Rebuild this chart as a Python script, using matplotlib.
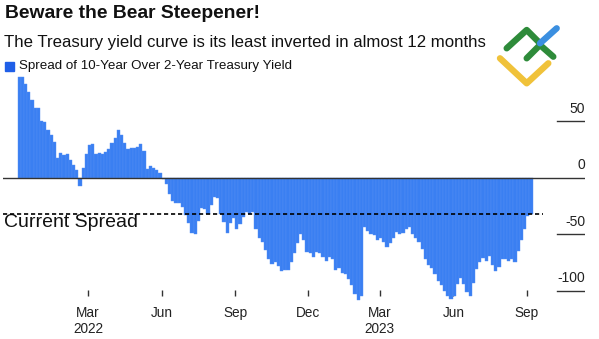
import matplotlib
matplotlib.use("Agg")
import matplotlib.pyplot as plt
import matplotlib.dates as mdates
from matplotlib.patches import Rectangle
from matplotlib.lines import Line2D
import numpy as np
import pandas as pd

plt.rcParams['font.family'] = ['Liberation Sans', 'DejaVu Sans']

# Spread 10Y - 2Y (bp), one bar every 4 days starting 2021-12-03
spread = [89, 89, 83, 76, 69, 62, 62, 50, 49, 42,
          38, 32, 17, 22, 20, 21, 16, 11, 7, -7,
          9, 21, 29, 30, 21, 22, 21, 23, 25, 31,
          35, 42, 38, 31, 25, 26, 26, 27, 30, 24,
          8, 10, 9, 7, 4, -1, -6, -14, -21, -22,
          -22, -26, -33, -40, -49, -50, -38, -27, -28, -32,
          -24, -17, -18, -32, -39, -49, -40, -36, -45, -41,
          -35, -30, -32, -30, -45, -53, -57, -64, -72, -76,
          -75, -78, -83, -82, -82, -75, -67, -58, -50, -55,
          -66, -67, -70, -66, -67, -70, -74, -70, -72, -82,
          -80, -84, -85, -90, -95, -103, -108, -105, -44, -47,
          -50, -51, -55, -53, -57, -61, -58, -53, -48, -50,
          -49, -45, -44, -50, -53, -57, -63, -72, -77, -80,
          -85, -91, -95, -100, -105, -107, -105, -94, -89, -94,
          -101, -105, -93, -81, -75, -71, -74, -69, -77, -83,
          -79, -72, -72, -74, -72, -75, -65, -55, -45, -34,
          -32]
dates = pd.date_range('2021-12-03', periods=len(spread), freq='4D')
current = spread[-1]

y_ticks = [50, 0, -50, -100]
x_ticks = ['2022-03-01', '2022-06-01', '2022-09-01', '2022-12-01',
           '2023-03-01', '2023-06-01', '2023-09-01']
x_labels = ['Mar\n2022', 'Jun', 'Sep', 'Dec', 'Mar\n2023', 'Jun', 'Sep']

W, H = 599, 339
fig = plt.figure(figsize=(W / 100, H / 100), dpi=100)
ax = fig.add_axes([3 / W, (H - 296) / H, 582 / W, 226 / H])

bar_color = '#3a7ff2'
ax.bar(dates, spread, width=4, align='edge', color=bar_color,
       edgecolor='#5590f4', linewidth=0.3, clip_on=False, zorder=2)

ax.set_xlim(mdates.date2num(pd.Timestamp('2021-11-14 16:00')),
            mdates.date2num(pd.Timestamp('2023-11-12 14:00')))
ax.set_ylim(-104.7, 95.3)

for s in ax.spines.values():
    s.set_visible(False)

ax.set_xticks(pd.to_datetime(x_ticks))
ax.set_xticklabels(x_labels)
ax.tick_params(axis='x', direction='in', length=4, width=1, color='#333333',
               labelsize=9.8, labelcolor='#222222', pad=7)
ax.set_yticks([])

# zero line and short right-side grid marks
ax.axhline(0, color='#333333', lw=1, zorder=3)
for v in y_ticks:
    if v != 0:
        ax.axhline(v, xmin=0.952, xmax=1.0, color='#333333', lw=1)
    ax.annotate(str(v), xy=(1.0, v), xycoords=ax.get_yaxis_transform(),
                xytext=(0, 9), textcoords='offset points',
                ha='right', va='center', fontsize=10, color='#222222')

# current spread reference
ax.axhline(current, xmin=0, xmax=0.928, color='black', lw=1.2,
           ls=(0, (2.5, 1.7)), zorder=4)
ax.text(0.002, current, 'Current Spread', transform=ax.get_yaxis_transform(),
        ha='left', va='top', fontsize=14, color='#111111')

# titles
fig.text(5 / W, 1 - 13 / H, 'Beware the Bear Steepener!', fontsize=13.9,
         fontweight='bold', va='center', ha='left', color='#111111')
fig.text(4 / W, 1 - 42 / H,
         'The Treasury yield curve is its least inverted in almost 12 months',
         fontsize=12.1, va='center', ha='left', color='#111111')

# legend
fig.add_artist(Rectangle((5 / W, 1 - 71 / H), 9 / W, 9 / H,
                         transform=fig.transFigure, color='#1f5fe8'))
fig.text(19 / W, 1 - 66.5 / H, 'Spread of 10-Year Over 2-Year Treasury Yield',
         fontsize=9.6, va='center', ha='left', color='#111111')

# watermark logo (top right)
def px(pts):
    return [p[0] / W for p in pts], [1 - p[1] / H for p in pts]

logo = [([(500, 58.3), (526.7, 83.3), (548.3, 63.3)], '#f0c23a'),
        ([(506.7, 48.3), (526.7, 30), (540, 43.3)], '#2e8b3a'),
        ([(526.7, 58.3), (540, 45), (553.3, 56.7)], '#2e8b3a'),
        ([(540, 43.3), (556.7, 28.3)], '#3b8fe0')]
for pts, c in logo:
    xs, ys = px(pts)
    fig.add_artist(Line2D(xs, ys, transform=fig.transFigure, color=c,
                          lw=4.6, solid_capstyle='round',
                          solid_joinstyle='round'))

fig.savefig('out.png', dpi=100)
